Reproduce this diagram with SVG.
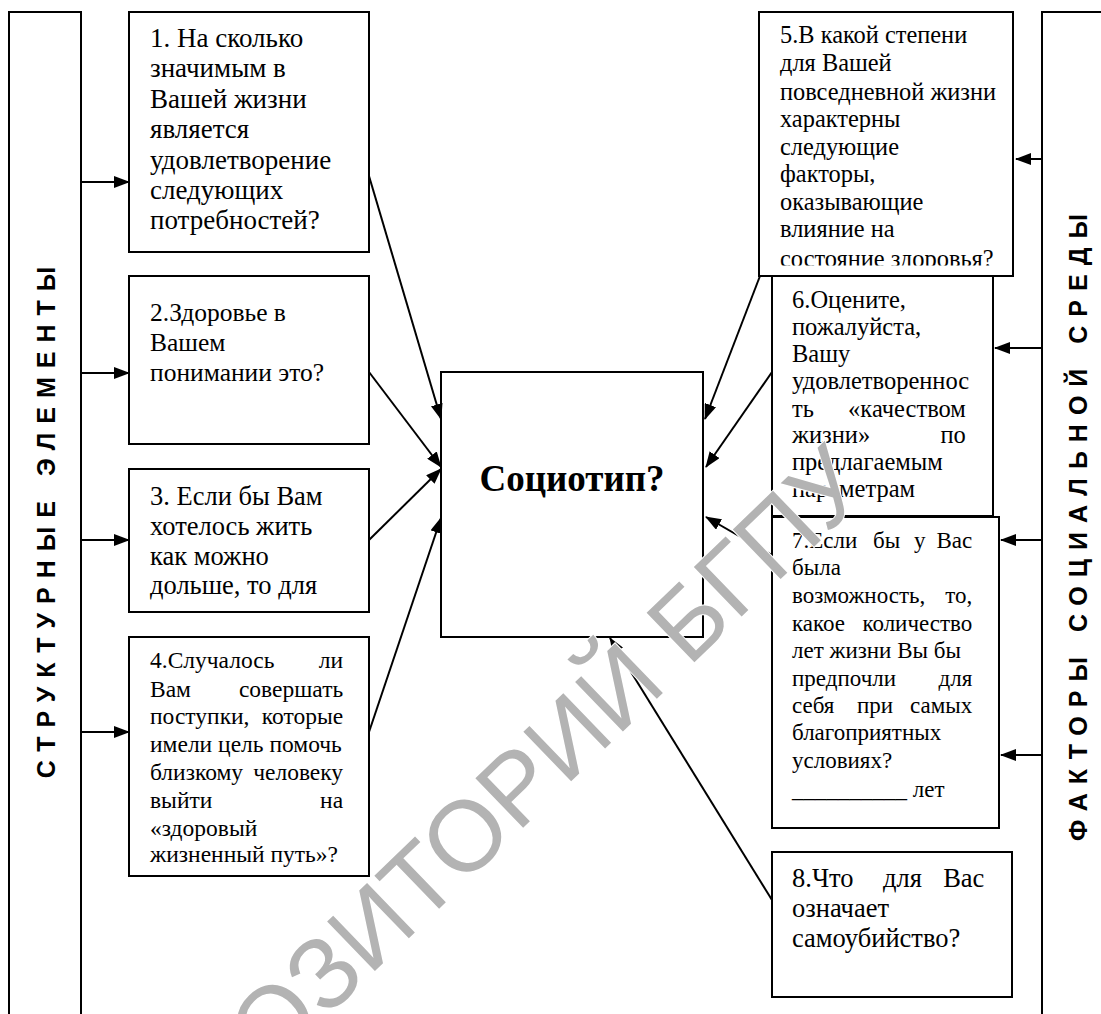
<svg xmlns="http://www.w3.org/2000/svg" width="1101" height="1014" viewBox="0 0 1101 1014">
<style>
.box{fill:#fff;stroke:#000;stroke-width:2}
.t{font-family:"Liberation Serif","Times New Roman",serif;fill:#000}
.side{font-family:"Liberation Sans",Arial,sans-serif;font-weight:bold;font-size:25px;letter-spacing:9px;fill:#000}
.c{fill:none;stroke:#000;stroke-width:2}
.wm{font-family:"Liberation Sans",Arial,sans-serif;font-size:100px;fill:#b3b3b3;stroke:#fff;stroke-width:2;paint-order:stroke}
</style>
<defs>
<marker id="ah" markerUnits="userSpaceOnUse" markerWidth="16" markerHeight="12" viewBox="0 0 16 12" refX="15" refY="6" orient="auto">
<path d="M0,0 L16,6 L0,12 Z" fill="#000"/>
</marker>
<clipPath id="clip5"><rect x="760" y="13" width="252" height="252.5"/></clipPath>
</defs>

<g id="left-sidebar">
<rect class="box" x="9" y="12" width="72" height="1010"/>
<text class="side" transform="translate(55,518) rotate(-90)" text-anchor="middle">СТРУКТУРНЫЕ ЭЛЕМЕНТЫ</text>
</g>

<g id="right-sidebar">
<rect class="box" x="1042" y="12" width="70" height="1010"/>
<text class="side" transform="translate(1087,523) rotate(-90)" text-anchor="middle">ФАКТОРЫ СОЦИАЛЬНОЙ СРЕДЫ</text>
</g>

<g id="q1">
<rect class="box" x="129" y="12" width="240" height="240"/>
<text class="t" font-size="27"><tspan x="150" y="47">1. На сколько</tspan><tspan x="150" y="77">значимым в</tspan><tspan x="150" y="108">Вашей жизни</tspan><tspan x="150" y="138">является</tspan><tspan x="150" y="169">удовлетворение</tspan><tspan x="150" y="199">следующих</tspan><tspan x="150" y="229">потребностей?</tspan></text>
</g>

<g id="q2">
<rect class="box" x="129" y="276" width="240" height="168"/>
<text class="t" font-size="25.5"><tspan x="150" y="321">2.Здоровье в</tspan><tspan x="150" y="351">Вашем</tspan><tspan x="150" y="381">понимании это?</tspan></text>
</g>

<g id="q3">
<rect class="box" x="129" y="469" width="240" height="143"/>
<text class="t" font-size="26.5"><tspan x="150" y="505">3. Если бы Вам</tspan><tspan x="150" y="535">хотелось жить</tspan><tspan x="150" y="565">как можно</tspan><tspan x="150" y="594">дольше, то для</tspan></text>
</g>

<g id="q4">
<rect class="box" x="129" y="637" width="240" height="239"/>
<text class="t" font-size="23.5">
<tspan x="150" y="668">4.Случалось</tspan><tspan x="349" y="668" text-anchor="end">ли</tspan>
<tspan x="150" y="697">Вам</tspan><tspan x="349" y="697" text-anchor="end">совершать</tspan>
<tspan x="150" y="724">поступки,</tspan><tspan x="349" y="724" text-anchor="end">которые</tspan>
<tspan x="150" y="752">имели цель помочь</tspan>
<tspan x="150" y="780">близкому</tspan><tspan x="349" y="780" text-anchor="end">человеку</tspan>
<tspan x="150" y="808">выйти</tspan><tspan x="349" y="808" text-anchor="end">на</tspan>
<tspan x="150" y="836">«здоровый</tspan>
<tspan x="150" y="862">жизненный путь»?</tspan>
</text>
</g>

<g id="center">
<rect class="box" x="441" y="372" width="262" height="265"/>
<text x="572" y="491" text-anchor="middle" style="font-family:'Liberation Serif','Times New Roman',serif;font-weight:bold;font-size:37px">Социотип?</text>
</g>

<g id="q6">
<rect class="box" x="772" y="270" width="221" height="246"/>
<text class="t" font-size="24.5">
<tspan x="792" y="308">6.Оцените,</tspan>
<tspan x="792" y="335">пожалуйста,</tspan>
<tspan x="792" y="362">Вашу</tspan>
<tspan x="792" y="389">удовлетвореннос</tspan>
<tspan x="792" y="417">ть</tspan><tspan x="972" y="417" text-anchor="end">«качеством</tspan>
<tspan x="792" y="443">жизни»</tspan><tspan x="972" y="443" text-anchor="end">по</tspan>
<tspan x="792" y="470">предлагаемым</tspan>
<tspan x="792" y="497">параметрам</tspan>
</text>
</g>

<g id="q5">
<rect class="box" x="759" y="12" width="254" height="264"/>
<text class="t" font-size="24.4" clip-path="url(#clip5)">
<tspan x="780" y="43">5.В какой степени</tspan>
<tspan x="780" y="71">для Вашей</tspan>
<tspan x="780" y="100">повседневной жизни</tspan>
<tspan x="780" y="127">характерны</tspan>
<tspan x="780" y="155">следующие</tspan>
<tspan x="780" y="182">факторы,</tspan>
<tspan x="780" y="210">оказывающие</tspan>
<tspan x="780" y="237">влияние на</tspan>
<tspan x="780" y="267">состояние здоровья?</tspan>
</text>
</g>

<g id="q7">
<rect class="box" x="772" y="517" width="227" height="311"/>
<text class="t" font-size="23">
<tspan x="792" y="548">7.Если</tspan><tspan x="873" y="548">бы</tspan><tspan x="914" y="548">у</tspan><tspan x="978" y="548" text-anchor="end">Вас</tspan>
<tspan x="792" y="575">была</tspan>
<tspan x="792" y="603">возможность,</tspan><tspan x="978" y="603" text-anchor="end">то,</tspan>
<tspan x="792" y="631">какое</tspan><tspan x="978" y="631" text-anchor="end">количество</tspan>
<tspan x="792" y="658">лет жизни Вы бы</tspan>
<tspan x="792" y="686">предпочли</tspan><tspan x="978" y="686" text-anchor="end">для</tspan>
<tspan x="792" y="713">себя</tspan><tspan x="857" y="713">при</tspan><tspan x="978" y="713" text-anchor="end">самых</tspan>
<tspan x="792" y="740">благоприятных</tspan>
<tspan x="792" y="768">условиях?</tspan>
<tspan x="792" y="797">__________ лет</tspan>
</text>
</g>

<g id="q8">
<rect class="box" x="772" y="852" width="240" height="145"/>
<text class="t" font-size="26.5">
<tspan x="792" y="887">8.Что</tspan><tspan x="883" y="887">для</tspan><tspan x="991" y="887" text-anchor="end">Вас</tspan>
<tspan x="792" y="917">означает</tspan>
<tspan x="792" y="947">самоубийство?</tspan>
</text>
</g>

<g id="connectors">
<line class="c" x1="82" y1="182" x2="129" y2="182" marker-end="url(#ah)"/>
<line class="c" x1="82" y1="373" x2="129" y2="373" marker-end="url(#ah)"/>
<line class="c" x1="82" y1="540" x2="129" y2="540" marker-end="url(#ah)"/>
<line class="c" x1="82" y1="732" x2="129" y2="732" marker-end="url(#ah)"/>
<line class="c" x1="1042" y1="159" x2="1016" y2="159" marker-end="url(#ah)"/>
<line class="c" x1="1042" y1="348" x2="995" y2="348" marker-end="url(#ah)"/>
<line class="c" x1="1042" y1="540" x2="1001" y2="540" marker-end="url(#ah)"/>
<line class="c" x1="1042" y1="755" x2="1001" y2="755" marker-end="url(#ah)"/>
<line class="c" x1="369" y1="176" x2="441" y2="419" marker-end="url(#ah)"/>
<line class="c" x1="369" y1="372" x2="441" y2="467" marker-end="url(#ah)"/>
<line class="c" x1="369" y1="540" x2="441" y2="469" marker-end="url(#ah)"/>
<line class="c" x1="369" y1="732" x2="441" y2="518" marker-end="url(#ah)"/>
<line class="c" x1="760" y1="276" x2="705" y2="419" marker-end="url(#ah)"/>
<line class="c" x1="772" y1="372" x2="706" y2="467" marker-end="url(#ah)"/>
<line class="c" x1="772" y1="555" x2="706" y2="517" marker-end="url(#ah)"/>
<line class="c" x1="772" y1="900" x2="610" y2="638" marker-end="url(#ah)"/>
</g>

<text class="wm" transform="translate(497,853) rotate(-44)" text-anchor="middle">РЕПОЗИТОРИЙ БГПУ</text>
</svg>
